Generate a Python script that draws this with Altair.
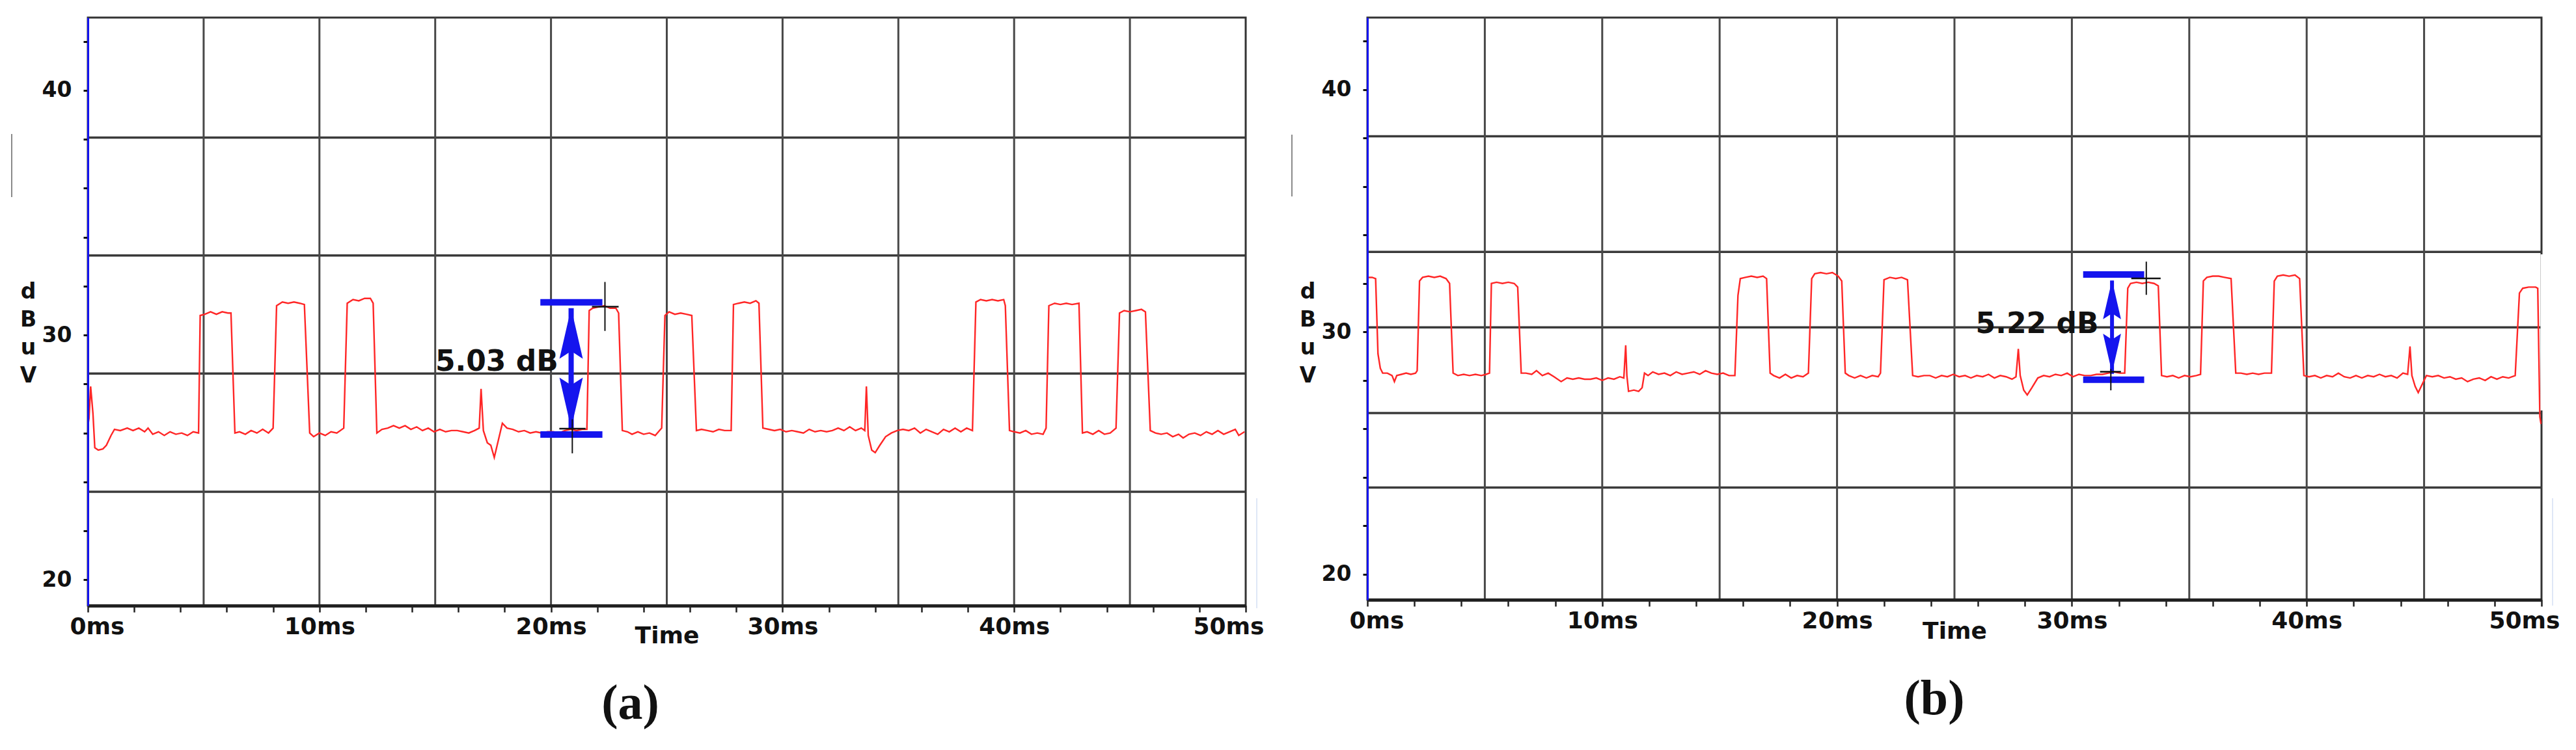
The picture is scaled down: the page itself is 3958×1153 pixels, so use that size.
import altair as alt
import pandas as pd

# ---------------- shared axis values ----------------
X_DOMAIN = [0, 50]
Y_DOMAIN = [18.95, 42.97]
X_TICKS = list(range(0, 51, 2))
Y_TICKS = list(range(20, 43, 2))
V_GRID = [5, 10, 15, 20, 25, 30, 35, 40, 45]

# ---------------- panel (a) ----------------
A_TRACE = [
    (0.00, 26.3), (0.05, 26.6), (0.12, 27.9), (0.22, 26.8), (0.30, 25.4), (0.45, 25.3), (0.65, 25.35),
    (0.80, 25.5), (1.00, 25.9), (1.15, 26.15), (1.40, 26.1), (1.70, 26.2), (1.95, 26.1), (2.20, 26.2),
    (2.45, 26.05), (2.60, 26.2), (2.80, 25.95), (3.05, 26.05), (3.30, 25.9), (3.55, 26.05), (3.80, 25.95),
    (4.05, 26.0), (4.30, 25.9), (4.55, 26.05), (4.78, 26.0), (4.85, 30.8), (5.05, 30.85), (5.30, 30.95),
    (5.55, 30.85), (5.80, 30.95), (6.05, 30.9), (6.18, 30.9), (6.35, 26.0), (6.55, 26.05), (6.80, 25.95),
    (7.05, 26.1), (7.30, 26.0), (7.55, 26.15), (7.80, 26.0), (8.00, 26.2), (8.15, 31.2), (8.40, 31.35),
    (8.65, 31.3), (8.90, 31.35), (9.15, 31.3), (9.35, 31.25), (9.58, 26.0), (9.75, 25.85), (10.00, 26.0),
    (10.25, 25.9), (10.50, 26.05), (10.75, 26.0), (11.05, 26.2), (11.20, 31.3), (11.45, 31.45), (11.70, 31.4),
    (11.95, 31.5), (12.20, 31.5), (12.32, 31.3), (12.48, 26.0), (12.70, 26.15), (12.95, 26.2), (13.20, 26.3),
    (13.45, 26.2), (13.70, 26.3), (13.95, 26.15), (14.20, 26.25), (14.45, 26.1), (14.70, 26.2), (14.95, 26.05),
    (15.20, 26.15), (15.45, 26.05), (15.70, 26.1), (15.95, 26.1), (16.20, 26.05), (16.45, 26.0), (16.70, 26.1),
    (16.90, 26.2), (16.98, 27.8), (17.08, 26.1), (17.25, 25.6), (17.40, 25.5), (17.55, 25.0), (17.70, 25.6),
    (17.90, 26.4), (18.10, 26.2), (18.35, 26.15), (18.60, 26.05), (18.85, 26.1), (19.10, 26.0), (19.35, 26.05),
    (19.60, 26.0), (19.85, 26.05), (20.10, 26.05), (20.35, 26.0), (20.60, 26.1), (20.85, 26.15), (21.10, 26.1),
    (21.35, 26.15), (21.55, 26.15), (21.65, 31.0), (21.80, 31.1), (22.05, 31.15), (22.30, 31.2), (22.55, 31.1),
    (22.80, 31.1), (22.92, 30.9), (23.08, 26.1), (23.30, 26.05), (23.50, 25.95), (23.75, 26.05), (24.00, 25.95),
    (24.25, 26.0), (24.50, 25.9), (24.78, 26.2), (24.92, 30.8), (25.10, 30.95), (25.35, 30.85), (25.60, 30.9),
    (25.85, 30.85), (26.08, 30.8), (26.28, 26.1), (26.50, 26.15), (26.75, 26.1), (27.00, 26.05), (27.25, 26.15),
    (27.50, 26.1), (27.78, 26.1), (27.88, 31.25), (28.10, 31.3), (28.35, 31.35), (28.60, 31.3), (28.85, 31.4),
    (28.98, 31.3), (29.15, 26.2), (29.40, 26.15), (29.65, 26.1), (29.90, 26.15), (30.15, 26.05), (30.40, 26.1),
    (30.65, 26.05), (30.90, 26.0), (31.15, 26.15), (31.40, 26.05), (31.65, 26.1), (31.90, 26.05), (32.15, 26.1),
    (32.40, 26.2), (32.65, 26.1), (32.90, 26.25), (33.15, 26.1), (33.40, 26.2), (33.55, 26.1), (33.62, 27.9),
    (33.70, 25.9), (33.85, 25.3), (34.00, 25.2), (34.20, 25.5), (34.45, 25.85), (34.70, 26.0), (34.95, 26.1),
    (35.20, 26.15), (35.45, 26.1), (35.70, 26.2), (35.95, 26.0), (36.20, 26.15), (36.45, 26.05), (36.70, 25.95),
    (36.95, 26.15), (37.20, 26.05), (37.45, 26.2), (37.70, 26.05), (37.95, 26.2), (38.20, 26.1), (38.35, 31.35),
    (38.55, 31.45), (38.80, 31.4), (39.05, 31.45), (39.30, 31.4), (39.55, 31.45), (39.62, 31.2), (39.80, 26.1),
    (40.00, 26.05), (40.25, 26.0), (40.50, 26.1), (40.75, 25.95), (41.00, 26.0), (41.25, 25.95), (41.38, 26.2),
    (41.50, 31.2), (41.75, 31.3), (42.00, 31.25), (42.25, 31.3), (42.50, 31.25), (42.80, 31.3), (42.95, 26.0),
    (43.15, 26.05), (43.40, 25.95), (43.65, 26.1), (43.90, 25.95), (44.15, 26.0), (44.40, 26.2), (44.55, 30.9),
    (44.75, 31.0), (45.00, 30.95), (45.25, 31.0), (45.50, 31.05), (45.67, 30.95), (45.88, 26.1), (46.10, 26.0),
    (46.35, 25.95), (46.60, 26.0), (46.85, 25.85), (47.10, 25.95), (47.30, 25.8), (47.55, 25.95), (47.80, 26.0),
    (48.05, 25.9), (48.30, 26.05), (48.55, 25.95), (48.80, 26.1), (49.05, 25.95), (49.30, 26.05), (49.55, 26.15),
    (49.70, 25.9), (49.95, 26.05),
]
A_H_GRID = [38.07, 33.25, 28.43, 23.60]
A_BAR_T = [19.54, 22.22]
A_BAR_V = [31.34, 25.94]
A_SHAFT_T = [20.87]
A_SHAFT_V = [31.10, 26.20]
A_HEAD_V = [30.07, 27.23]
A_CROSS_V = [(22.33, 32.17, 30.17), (20.92, 26.56, 25.17)]
A_CROSS_H = [(21.77, 22.92, 31.16), (20.36, 21.49, 26.18)]
A_TEXT = [(17.66, 28.88, "5.03 dB")]

# ---------------- panel (b) ----------------
B_TRACE = [
    (0.00, 32.25), (0.20, 32.25), (0.35, 32.2), (0.45, 29.1), (0.55, 28.5), (0.65, 28.3), (0.85, 28.3),
    (1.05, 28.2), (1.15, 27.95), (1.25, 28.2), (1.45, 28.25), (1.65, 28.3), (1.85, 28.25), (2.05, 28.3),
    (2.12, 28.4), (2.22, 32.1), (2.35, 32.25), (2.60, 32.3), (2.85, 32.25), (3.10, 32.3), (3.35, 32.2),
    (3.50, 32.0), (3.65, 28.3), (3.85, 28.2), (4.10, 28.25), (4.35, 28.2), (4.60, 28.25), (4.85, 28.2),
    (5.05, 28.25), (5.20, 28.3), (5.28, 32.0), (5.50, 32.05), (5.75, 32.0), (6.00, 32.05), (6.25, 32.0),
    (6.40, 31.85), (6.55, 28.3), (6.75, 28.3), (7.00, 28.25), (7.20, 28.4), (7.45, 28.2), (7.70, 28.3),
    (7.95, 28.15), (8.25, 27.95), (8.50, 28.1), (8.75, 28.05), (9.00, 28.1), (9.25, 28.05), (9.50, 28.05),
    (9.75, 28.1), (10.00, 28.0), (10.25, 28.1), (10.50, 28.05), (10.75, 28.15), (10.92, 28.1), (11.00, 29.45),
    (11.05, 28.2), (11.12, 27.55), (11.35, 27.6), (11.55, 27.55), (11.70, 27.7), (11.80, 28.3), (11.95, 28.2),
    (12.15, 28.35), (12.40, 28.25), (12.65, 28.3), (12.90, 28.2), (13.15, 28.35), (13.40, 28.25), (13.65, 28.3),
    (13.90, 28.35), (14.15, 28.25), (14.40, 28.4), (14.65, 28.3), (14.90, 28.25), (15.15, 28.3), (15.40, 28.2),
    (15.65, 28.2), (15.78, 31.5), (15.88, 32.2), (16.10, 32.25), (16.35, 32.3), (16.60, 32.25), (16.85, 32.3),
    (17.00, 32.2), (17.15, 28.3), (17.30, 28.2), (17.55, 28.1), (17.80, 28.25), (18.05, 28.1), (18.30, 28.2),
    (18.55, 28.15), (18.78, 28.3), (18.92, 32.2), (19.05, 32.4), (19.30, 32.45), (19.55, 32.4), (19.80, 32.45),
    (20.05, 32.3), (20.20, 32.1), (20.35, 28.3), (20.50, 28.2), (20.75, 28.1), (21.00, 28.2), (21.25, 28.1),
    (21.50, 28.2), (21.75, 28.15), (21.85, 28.3), (22.00, 32.15), (22.25, 32.25), (22.50, 32.2), (22.75, 32.25),
    (23.00, 32.15), (23.22, 28.2), (23.45, 28.15), (23.70, 28.2), (23.95, 28.2), (24.20, 28.1), (24.45, 28.2),
    (24.70, 28.15), (24.95, 28.25), (25.20, 28.15), (25.45, 28.2), (25.70, 28.1), (25.95, 28.2), (26.20, 28.15),
    (26.45, 28.25), (26.70, 28.1), (26.95, 28.2), (27.20, 28.15), (27.45, 28.05), (27.62, 28.15), (27.72, 29.3),
    (27.80, 28.2), (27.95, 27.6), (28.10, 27.4), (28.30, 27.7), (28.55, 28.1), (28.80, 28.2), (29.05, 28.15),
    (29.30, 28.25), (29.55, 28.2), (29.80, 28.3), (30.05, 28.15), (30.30, 28.25), (30.55, 28.2), (30.80, 28.2),
    (31.05, 28.25), (31.30, 28.25), (31.55, 28.3), (31.80, 28.35), (32.05, 28.3), (32.25, 28.3), (32.38, 31.8),
    (32.50, 32.0), (32.75, 32.05), (33.00, 32.0), (33.25, 32.05), (33.50, 32.0), (33.68, 31.9), (33.82, 28.2),
    (34.05, 28.15), (34.30, 28.2), (34.55, 28.1), (34.80, 28.2), (35.05, 28.15), (35.30, 28.2), (35.48, 28.25),
    (35.60, 32.1), (35.75, 32.25), (36.00, 32.3), (36.25, 32.3), (36.50, 32.25), (36.78, 32.2), (36.98, 28.3),
    (37.20, 28.3), (37.45, 28.25), (37.70, 28.3), (37.95, 28.25), (38.20, 28.3), (38.50, 28.3), (38.62, 32.1),
    (38.75, 32.3), (39.00, 32.35), (39.25, 32.3), (39.50, 32.35), (39.70, 32.2), (39.88, 28.2), (40.10, 28.15),
    (40.35, 28.2), (40.60, 28.1), (40.85, 28.2), (41.10, 28.15), (41.35, 28.3), (41.60, 28.15), (41.85, 28.1),
    (42.10, 28.2), (42.35, 28.1), (42.60, 28.2), (42.85, 28.15), (43.10, 28.25), (43.35, 28.15), (43.60, 28.2),
    (43.85, 28.1), (44.10, 28.3), (44.30, 28.25), (44.40, 29.4), (44.48, 28.2), (44.62, 27.75), (44.75, 27.5),
    (44.95, 27.9), (45.10, 28.2), (45.35, 28.15), (45.60, 28.2), (45.85, 28.1), (46.10, 28.15), (46.35, 28.05),
    (46.60, 28.1), (46.85, 27.95), (47.10, 28.05), (47.35, 28.1), (47.60, 28.0), (47.85, 28.15), (48.10, 28.05),
    (48.35, 28.15), (48.60, 28.1), (48.88, 28.2), (49.06, 31.6), (49.20, 31.8), (49.45, 31.85), (49.75, 31.85),
    (49.84, 31.8), (49.93, 26.5), (49.98, 26.2),
]
B_H_GRID = [38.07, 33.30, 30.19, 26.65, 23.58]
B_BAR_T = [30.48, 33.08]
B_BAR_V = [32.37, 28.03]
B_SHAFT_T = [31.71]
B_SHAFT_V = [32.12, 28.27]
B_HEAD_V = [31.33, 29.12]
B_CROSS_V = [(33.17, 32.90, 31.53), (31.66, 28.47, 27.59)]
B_CROSS_H = [(32.53, 33.78, 32.21), (31.20, 32.09, 28.36)]
B_TEXT = [(28.52, 30.29, "5.22 dB")]

RED = "#ff2626"
BLUE = "#1414ee"
UP_HEAD = "M0,-1L0.46,1L0,0.7L-0.46,1Z"
DOWN_HEAD = "M0,1L0.46,-1L0,-0.7L-0.46,-1Z"
LABEL_FONT = "DejaVu Sans"


def make_panel(trace, hgrid, bar_t, bar_v, shaft_t, shaft_v, head_v, cross_v, cross_h, text,
               w, h, head_size, shaft_w, name, name_dx, time_y, gray_x, gray_y, blue_y, mask_y=None):
    xs = alt.Scale(domain=X_DOMAIN, nice=False, zero=False)
    ys = alt.Scale(domain=Y_DOMAIN, nice=False, zero=False)
    x_axis = alt.Axis(
        values=X_TICKS, labelExpr="datum.value % 10 == 0 ? datum.value + 'ms' : ''",
        labelFont=LABEL_FONT, labelFontSize=36, labelFontWeight="bold", labelColor="#111",
        labelPadding=5, labelFlush=True, labelFlushOffset=28, labelOverlap=False,
        tickSize=10, tickWidth=2.5, tickColor="#222", domainColor="#222", domainWidth=5,
        grid=False, title="Time", titleFont=LABEL_FONT, titleFontSize=36, titleFontWeight="bold",
        titleColor="#111", titleY=time_y, titleBaseline="middle", zindex=1,
    )
    y_axis = alt.Axis(
        values=Y_TICKS, labelExpr="datum.value % 10 == 0 ? datum.value : ''",
        labelFont=LABEL_FONT, labelFontSize=33, labelFontWeight="bold", labelColor="#111",
        labelPadding=18, labelOverlap=False,
        tickSize=7, tickWidth=3, tickColor="#111", domainColor=BLUE, domainWidth=3,
        grid=False, title=["d", "B", "u", "V"], titleFont=LABEL_FONT, titleFontSize=33,
        titleFontWeight="bold", titleColor="#111", titleAngle=0, titleAlign="center",
        titleBaseline="middle", titleLineHeight=43, titleX=-92, titleY=421, zindex=1,
    )

    def X(f):
        return alt.X(f, type="quantitative", scale=xs, axis=x_axis)

    def Y(f):
        return alt.Y(f, type="quantitative", scale=ys, axis=y_axis)

    df = pd.DataFrame(trace, columns=["t", "v"])
    hg = alt.Chart(pd.DataFrame({"v": hgrid})).mark_rule(color="#3a3a3a", strokeWidth=3.5).encode(y=Y("v"))
    vg = alt.Chart(pd.DataFrame({"t": V_GRID})).mark_rule(color="#484848", strokeWidth=3).encode(x=X("t"))
    line = alt.Chart(df).mark_line(color=RED, strokeWidth=2.4, clip=True).encode(x=X("t"), y=Y("v"))

    bars = alt.Chart(pd.DataFrame({"t": [bar_t[0]] * 2, "t2": [bar_t[1]] * 2, "v": bar_v})).mark_rule(
        color=BLUE, strokeWidth=10).encode(x=X("t"), x2="t2", y=Y("v"))
    shaft = alt.Chart(pd.DataFrame({"t": shaft_t, "v": [shaft_v[0]], "v2": [shaft_v[1]]})).mark_rule(
        color=BLUE, strokeWidth=shaft_w).encode(x=X("t"), y=Y("v"), y2="v2")
    up = alt.Chart(pd.DataFrame({"t": shaft_t, "v": [head_v[0]]})).mark_point(
        shape=UP_HEAD, filled=True, color=BLUE, opacity=1, size=head_size, strokeWidth=0).encode(x=X("t"), y=Y("v"))
    down = alt.Chart(pd.DataFrame({"t": shaft_t, "v": [head_v[1]]})).mark_point(
        shape=DOWN_HEAD, filled=True, color=BLUE, opacity=1, size=head_size, strokeWidth=0).encode(x=X("t"), y=Y("v"))
    cv = alt.Chart(pd.DataFrame(cross_v, columns=["t", "v", "v2"])).mark_rule(
        color="#111", strokeWidth=2).encode(x=X("t"), y=Y("v"), y2="v2")
    ch = alt.Chart(pd.DataFrame(cross_h, columns=["t", "t2", "v"])).mark_rule(
        color="#111", strokeWidth=2.5).encode(x=X("t"), x2="t2", y=Y("v"))
    txt = alt.Chart(pd.DataFrame(text, columns=["t", "v", "s"])).mark_text(
        font=LABEL_FONT, fontSize=44, fontWeight="bold", color="#111", align="center", baseline="middle"
    ).encode(x=X("t"), y=Y("v"), text="s:N")
    gray = alt.Chart(pd.DataFrame({"k": [0]})).mark_rule(color="#8a8a8a", strokeWidth=2).encode(
        x=alt.value(gray_x), y=alt.value(gray_y[0]), y2=alt.value(gray_y[1]))
    faint = alt.Chart(pd.DataFrame({"k": [0]})).mark_rule(color="#dfe7f6", strokeWidth=2).encode(
        x=alt.value(w + 17), y=alt.value(blue_y[0]), y2=alt.value(blue_y[1]))
    layers = [hg, vg, line, bars, shaft, up, down, cv, ch, txt, gray, faint]
    if mask_y is not None:
        layers.append(alt.Chart(pd.DataFrame({"k": [0]})).mark_rule(color="white", strokeWidth=5).encode(
            x=alt.value(w + 1), y=alt.value(mask_y[0]), y2=alt.value(mask_y[1])))

    return alt.layer(*layers).properties(
        width=w, height=h,
        title=alt.TitleParams(text=name, orient="bottom", anchor="middle", frame="group",
                              font="Liberation Serif", fontSize=76, fontWeight="bold", color="#111",
                              offset=50, dx=name_dx),
    )


panel_a = make_panel(A_TRACE, A_H_GRID, A_BAR_T, A_BAR_V, A_SHAFT_T, A_SHAFT_V, A_HEAD_V,
                     A_CROSS_V, A_CROSS_H, A_TEXT, 1779, 904, 6084, 8, "(a)", -56, 46,
                     -117, (179, 276), (739, 908))
panel_b = make_panel(B_TRACE, B_H_GRID, B_BAR_T, B_BAR_V, B_SHAFT_T, B_SHAFT_V, B_HEAD_V,
                     B_CROSS_V, B_CROSS_H, B_TEXT, 1804, 895, 3600, 6, "(b)", -31, 48,
                     -116, (180, 275), (739, 904), mask_y=(364, 604))

chart = alt.hconcat(panel_a, panel_b, spacing=38).properties(
    padding={"left": 7, "top": 16, "right": 5, "bottom": 5},
    background="white",
).configure_view(stroke="#333", strokeWidth=3)

chart.save("out.html", embed_options={"renderer": "svg", "actions": False})
